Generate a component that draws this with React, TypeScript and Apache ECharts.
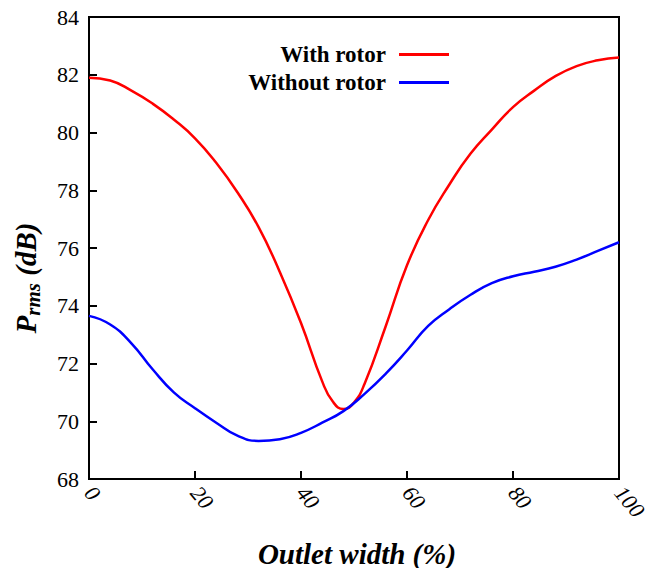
import React, { useEffect, useRef } from "react";
import * as echarts from "echarts";

const redX = [0, 4, 8, 12, 16, 20, 24, 28, 32, 36, 40, 44, 46, 48, 50, 52, 56, 60, 64, 68, 72, 76, 80, 84, 88, 92, 96, 100];
const withRotor = [81.9, 81.8, 81.45, 81.0, 80.45, 79.8, 78.95, 77.93, 76.72, 75.17, 73.4, 71.38, 70.68, 70.42, 70.65, 71.3, 73.3, 75.4, 76.97, 78.2, 79.27, 80.1, 80.88, 81.45, 81.95, 82.3, 82.5, 82.6];
const blueX = [0, 4, 8, 12, 16, 20, 24, 28, 32, 36, 40, 44, 48, 52, 56, 60, 64, 68, 72, 76, 80, 84, 88, 92, 96, 100];
const withoutRotor = [73.65, 73.35, 72.7, 71.8, 71.0, 70.45, 69.95, 69.5, 69.32, 69.38, 69.6, 69.95, 70.35, 70.95, 71.65, 72.45, 73.3, 73.88, 74.38, 74.78, 75.02, 75.18, 75.35, 75.6, 75.9, 76.2];
const seriesNames = ["With rotor", "Without rotor"];

export default function App() {
  const ref = useRef<HTMLDivElement>(null);
  useEffect(() => {
    const chart = echarts.init(ref.current!, null, { renderer: "svg" });
    const font = "'Liberation Serif', 'Times New Roman', serif";
    chart.setOption({
      animation: false,
      backgroundColor: "#fff",
      textStyle: { fontFamily: font },
      grid: {
        left: 89, right: 45, top: 17, bottom: 89,
        outerBoundsMode: "none", containLabel: false,
        show: true, borderColor: "#000", borderWidth: 2, backgroundColor: "transparent",
      },
      legend: {
        orient: "vertical",
        right: 210,
        top: 38,
        align: "right",
        itemWidth: 50,
        itemHeight: 3,
        itemGap: 5,
        textStyle: { fontFamily: font, fontWeight: "bold", fontSize: 23, color: "#000", padding: [0, 8, 0, 0] },
        data: [
          { name: seriesNames[0], icon: "rect" },
          { name: seriesNames[1], icon: "rect" },
        ],
      },
      xAxis: {
        type: "value",
        min: 0,
        max: 100,
        interval: 20,
        name: "Outlet width (%)",
        nameLocation: "middle",
        nameGap: 60,
        nameTextStyle: { fontFamily: font, fontWeight: "bold", fontStyle: "italic", fontSize: 29, color: "#000", padding: [0, 0, 0, 6] },
        axisLine: { lineStyle: { color: "#000", width: 2 } },
        axisTick: { inside: true, length: 8, lineStyle: { color: "#000", width: 2 } },
        splitLine: { show: false },
        axisLabel: {
          rotate: -50,
          margin: 10,
          fontFamily: font,
          fontStyle: "italic",
          fontSize: 22,
          color: "#000",
        },
      },
      yAxis: {
        type: "value",
        min: 68,
        max: 84,
        interval: 2,
        name: "{b|P}{s|rms}{b| (dB)}",
        nameLocation: "middle",
        nameGap: 46,
        nameRotate: 90,
        nameTextStyle: {
          padding: [0, 60, 0, 0],
          rich: {
            b: { fontFamily: font, fontWeight: "bold", fontStyle: "italic", fontSize: 29, color: "#000" },
            s: { fontFamily: font, fontWeight: "bold", fontStyle: "italic", fontSize: 21, color: "#000", verticalAlign: "bottom", padding: [14, 0, 0, 0] },
          },
        },
        axisLine: { lineStyle: { color: "#000", width: 2 } },
        axisTick: { inside: true, length: 8, lineStyle: { color: "#000", width: 2 } },
        splitLine: { show: false },
        axisLabel: { fontFamily: font, fontSize: 22, color: "#000", margin: 10 },
      },
      series: [
        {
          name: seriesNames[0],
          type: "line",
          smooth: 0.5,
          symbol: "none",
          color: "#ff0000",
          lineStyle: { width: 2.5, color: "#ff0000" },
          data: redX.map((x, i) => [x, withRotor[i]]),
        },
        {
          name: seriesNames[1],
          type: "line",
          smooth: 0.5,
          symbol: "none",
          color: "#0000ff",
          lineStyle: { width: 2.5, color: "#0000ff" },
          data: blueX.map((x, i) => [x, withoutRotor[i]]),
        },
      ],
    });
    return () => chart.dispose();
  }, []);
  return <div ref={ref} style={{ position: "absolute", left: 0, top: 0, width: 664, height: 568 }} />;
}
